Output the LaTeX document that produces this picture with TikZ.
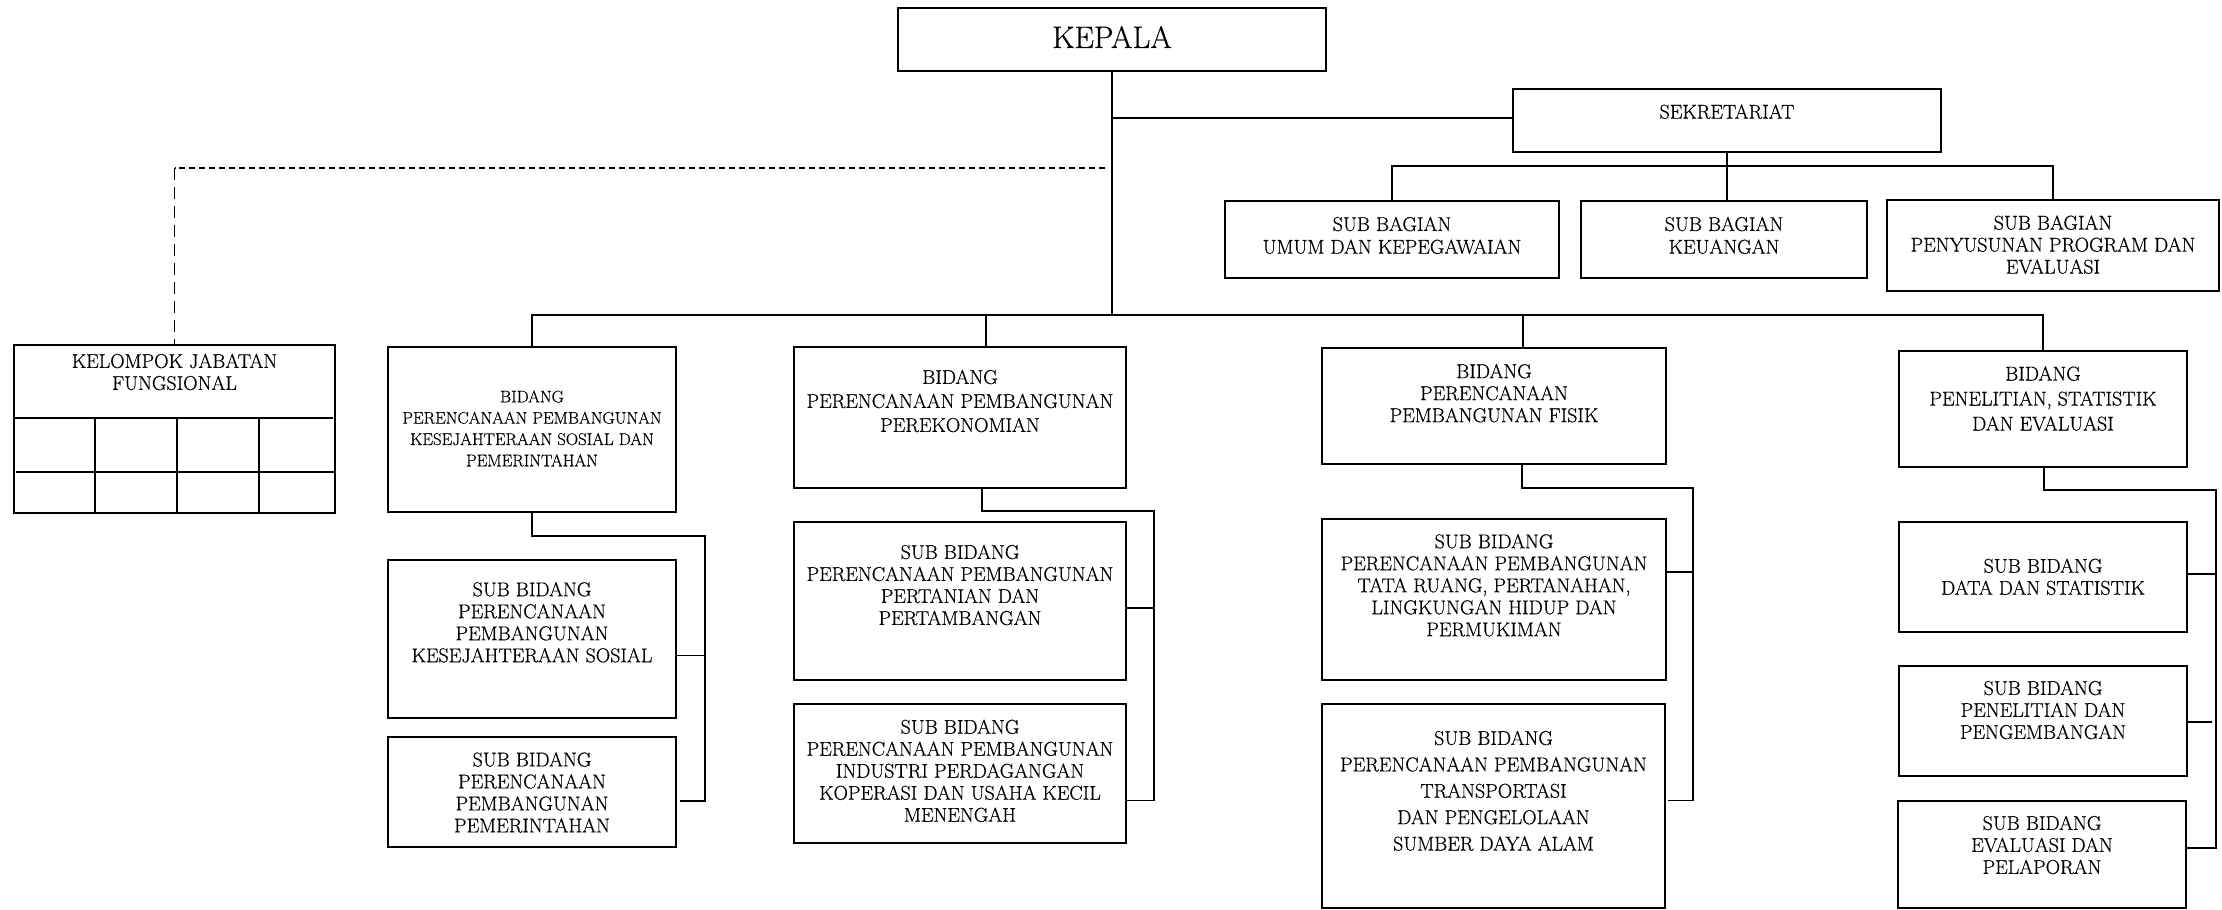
\documentclass[tikz,border=0pt]{standalone}
\usepackage{fontspec}
\setmainfont{Latin Modern Roman}[FakeBold=0.5]
\usetikzlibrary{calc}
\tikzset{
  orgbox/.style={draw, line width=1.8pt, inner sep=0pt, outer sep=0pt, anchor=north west},
  txt/.style={align=center, inner sep=0pt, font=\fontsize{20}{22}\selectfont},
  conn/.style={line width=1.6pt},
  dashh/.style={line width=1.5pt, dash pattern=on 6pt off 4pt},
  dashv/.style={line width=1.5pt, dash pattern=on 12pt off 7pt},
}
\newcommand\orgbox[5]{\node[orgbox, minimum width={#4pt-#2pt}, minimum height={#5pt-#3pt}] (#1) at (#2,#3) {};}
\begin{document}
\begin{tikzpicture}[x=1pt,y=-1pt]
\useasboundingbox (0,0) rectangle (2222,910);
\fill[white] (0,0) rectangle (2222,910);
% boxes
\orgbox{kepala}{898}{8}{1326}{71}
\orgbox{sek}{1513}{89}{1941}{152}
\orgbox{sb1}{1225}{201}{1559}{278}
\orgbox{sb2}{1581}{201}{1867}{278}
\orgbox{sb3}{1887}{200}{2219}{291}
\orgbox{kjf}{14}{345}{335}{513}
\orgbox{b1}{388}{347}{676}{512}
\orgbox{b2}{794}{347}{1126}{488}
\orgbox{b3}{1322}{348}{1666}{464}
\orgbox{b4}{1899}{351}{2187}{467}
\orgbox{s11}{388}{560}{676}{718}
\orgbox{s12}{388}{737}{676}{847}
\orgbox{s21}{794}{522}{1126}{680}
\orgbox{s22}{794}{704}{1126}{843}
\orgbox{s31}{1322}{519}{1666}{680}
\orgbox{s32}{1322}{704}{1665}{908}
\orgbox{s41}{1899}{522}{2187}{632}
\orgbox{s42}{1899}{666}{2187}{776}
\orgbox{s43}{1898}{801}{2186}{908}
% texts
\node[txt, font=\fontsize{31}{34}\selectfont] (t-kepala) at (1112,37) {KEPALA};
\node[txt] (t-sek) at (1727,111.7) {SEKRETARIAT};
\node[txt, font=\fontsize{20}{22.7}\selectfont] (t-sb1) at (1392,235.4) {SUB BAGIAN\\UMUM DAN KEPEGAWAIAN};
\node[txt, font=\fontsize{20}{22.7}\selectfont] (t-sb2) at (1724,235.4) {SUB BAGIAN\\KEUANGAN};
\node[txt] (t-sb3) at (2053,244.7) {SUB BAGIAN\\PENYUSUNAN PROGRAM DAN\\EVALUASI};
\node[txt] (t-kjf) at (174.5,372) {KELOMPOK JABATAN\\FUNGSIONAL};
\node[txt, font=\fontsize{16.9}{21.3}\selectfont] (t-b1) at (532,428.5) {BIDANG\\PERENCANAAN PEMBANGUNAN\\KESEJAHTERAAN SOSIAL DAN\\PEMERINTAHAN};
\node[txt, font=\fontsize{20}{24}\selectfont] (t-b2) at (960,401) {BIDANG\\PERENCANAAN PEMBANGUNAN\\PEREKONOMIAN};
\node[txt] (t-b3) at (1494,393.2) {BIDANG\\PERENCANAAN\\PEMBANGUNAN FISIK};
\node[txt, font=\fontsize{20}{25}\selectfont] (t-b4) at (2043,398.6) {BIDANG\\PENELITIAN, STATISTIK\\DAN EVALUASI};
\node[txt] (t-s11) at (532,622.3) {SUB BIDANG\\PERENCANAAN\\PEMBANGUNAN\\KESEJAHTERAAN SOSIAL};
\node[txt] (t-s12) at (532,792.5) {SUB BIDANG\\PERENCANAAN\\PEMBANGUNAN\\PEMERINTAHAN};
\node[txt] (t-s21) at (960,585) {SUB BIDANG\\PERENCANAAN PEMBANGUNAN\\PERTANIAN DAN\\PERTAMBANGAN};
\node[txt] (t-s22) at (960,770.8) {SUB BIDANG\\PERENCANAAN PEMBANGUNAN\\INDUSTRI PERDAGANGAN\\KOPERASI DAN USAHA KECIL\\MENENGAH};
\node[txt] (t-s31) at (1494,585.3) {SUB BIDANG\\PERENCANAAN PEMBANGUNAN\\TATA RUANG, PERTANAHAN,\\LINGKUNGAN HIDUP DAN\\PERMUKIMAN};
\node[txt, font=\fontsize{20}{26.4}\selectfont] (t-s32) at (1493.5,790.8) {SUB BIDANG\\PERENCANAAN PEMBANGUNAN\\TRANSPORTASI\\DAN PENGELOLAAN\\SUMBER DAYA ALAM};
\node[txt] (t-s41) at (2043,576.8) {SUB BIDANG\\DATA DAN STATISTIK};
\node[txt] (t-s42) at (2043,710) {SUB BIDANG\\PENELITIAN DAN\\PENGEMBANGAN};
\node[txt] (t-s43) at (2042,845) {SUB BIDANG\\EVALUASI DAN\\PELAPORAN};
% KJF grid
\draw[line width=1.6pt] (14,418) -- (333,418);
\draw[line width=1.6pt] (16,472) -- (335,472);
\foreach \gx in {95,177,259} \draw[line width=1.6pt] (\gx,418) -- (\gx,513);
% main connectors
\coordinate (kj) at (1112,315);
\coordinate (ks) at (1112,118);
\draw[conn] (kepala.south) -- (kj);
\draw[conn] (ks) -- (ks -| sek.west);
\coordinate (sbus) at (1727,166);
\draw[conn] (sek.south) -- (sek.south |- sb2.north);
\draw[conn] (sb1.north) -- (sb1.north |- sbus) -- (sb3.north |- sbus) -- (sb3.north);
\draw[conn] (b1.north) -- (b1.north |- kj) -- (b4.north |- kj) -- (b4.north);
\coordinate (b2top) at (986,315);
\coordinate (b3top) at (1523,315);
\draw[conn] (b2top) -- (b2top |- b2.north);
\draw[conn] (b3top) -- (b3top |- b3.north);
% dashed line to KJF
\coordinate (dk) at (1105,168);
\draw[dashh] (dk) -- (dk -| kjf.north);
\draw[dashv] (dk -| kjf.north) -- (kjf.north);
% sub connectors, bidang 1
\coordinate (v1) at (705,536);
\coordinate (v1b) at (705,802);
\coordinate (c11) at (705,655.5);
\coordinate (c12) at (705,801);
\draw[conn] (b1.south) |- (v1) -- (v1b);
\draw[conn] (c11 -| s11.east) -- (c11);
\draw[conn] ($(c12 -| s12.east)+(4,0)$) -- (c12);
% bidang 2
\coordinate (b2d) at (982,488);
\coordinate (v2) at (1154,511);
\coordinate (v2b) at (1154,801);
\coordinate (c21) at (1154,608);
\coordinate (c22) at (1154,800.6);
\draw[conn] (b2d) |- (v2) -- (v2b);
\draw[conn] (c21 -| s21.east) -- (c21);
\draw[conn] ($(c22 -| s22.east)+(1,0)$) -- (c22);
% bidang 3
\coordinate (b3d) at (1522,464);
\coordinate (v3) at (1693,488);
\coordinate (v3b) at (1693,801);
\coordinate (c31) at (1693,572);
\coordinate (c32) at (1693,800.6);
\draw[conn] (b3d) |- (v3) -- (v3b);
\draw[conn] (c31 -| s31.east) -- (c31);
\draw[conn] ($(c32 -| s32.east)+(3,0)$) -- (c32);
% bidang 4
\coordinate (b4d) at (2044,467);
\coordinate (v4) at (2216,490);
\coordinate (v4b) at (2216,849);
\coordinate (c41) at (2216,574);
\coordinate (c42) at (2212,722);
\coordinate (c43) at (2216,848);
\draw[conn] (b4d) |- (v4) -- (v4b);
\draw[conn] (c41 -| s41.east) -- (c41);
\draw[conn] (c42 -| s42.east) -- (c42);
\draw[conn] (c43 -| s43.east) -- (c43);
\end{tikzpicture}
\end{document}
